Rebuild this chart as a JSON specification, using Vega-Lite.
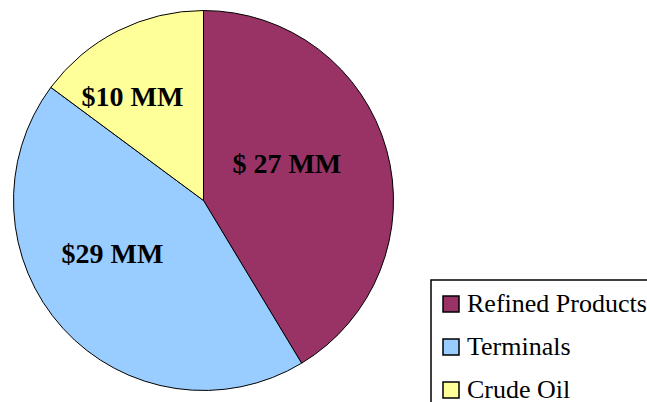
{
  "$schema": "https://vega.github.io/schema/vega-lite/v6.json",
  "autosize": {"type": "pad"},
  "padding": 0,
  "width": 407,
  "height": 401,
  "background": "white",
  "data": {"values": [
    {"cat": "Refined Products", "value": 27.3, "label": "$ 27 MM", "idx": 1},
    {"cat": "Terminals", "value": 28.9, "label": "$29 MM", "idx": 2},
    {"cat": "Crude Oil", "value": 9.8, "label": "$10 MM", "idx": 3}
  ]},
  "encoding": {
    "theta": {"field": "value", "type": "quantitative", "stack": true},
    "order": {"field": "idx", "type": "quantitative"}
  },
  "layer": [
    {
      "mark": {"type": "arc", "outerRadius": 190, "stroke": "black", "strokeWidth": 1},
      "encoding": {
        "color": {
          "field": "cat", "type": "nominal",
          "scale": {"domain": ["Refined Products", "Terminals", "Crude Oil"], "range": ["#993366", "#99CCFF", "#FFFF99"]},
          "legend": {
            "title": null, "orient": "none", "legendX": 431, "legendY": 280,
            "symbolType": "square", "symbolSize": 256, "symbolStrokeColor": "black", "symbolStrokeWidth": 1.5,
            "labelFont": "Liberation Serif", "labelFontSize": 26, "labelColor": "black", "labelLimit": 400,
            "strokeColor": "black", "fillColor": "white", "padding": 11, "rowPadding": 17, "labelOffset": 3,
            "symbolOffset": -4,
            "symbolOpacity": 1
          }
        }
      }
    },
    {
      "mark": {"type": "text", "radius": 100, "font": "Liberation Serif", "fontWeight": "bold", "fontSize": 28, "align": "center", "baseline": "middle", "color": "black", "dx": -13, "dy": -9},
      "encoding": {
        "detail": {"field": "cat"},
        "text": {"condition": {"test": "datum.cat === 'Refined Products'", "field": "label"}, "value": ""}
      }
    },
    {
      "mark": {"type": "text", "radius": 100, "font": "Liberation Serif", "fontWeight": "bold", "fontSize": 28, "align": "center", "baseline": "middle", "color": "black", "dx": -17, "dy": -13},
      "encoding": {
        "detail": {"field": "cat"},
        "text": {"condition": {"test": "datum.cat === 'Terminals'", "field": "label"}, "value": ""}
      }
    },
    {
      "mark": {"type": "text", "radius": 100, "font": "Liberation Serif", "fontWeight": "bold", "fontSize": 28, "align": "center", "baseline": "middle", "color": "black", "dx": -26, "dy": -13.5},
      "encoding": {
        "detail": {"field": "cat"},
        "text": {"condition": {"test": "datum.cat === 'Crude Oil'", "field": "label"}, "value": ""}
      }
    }
  ],
  "config": {
    "view": {"stroke": null},
    "legend": {"strokeWidth": 1.5}
  }
}
